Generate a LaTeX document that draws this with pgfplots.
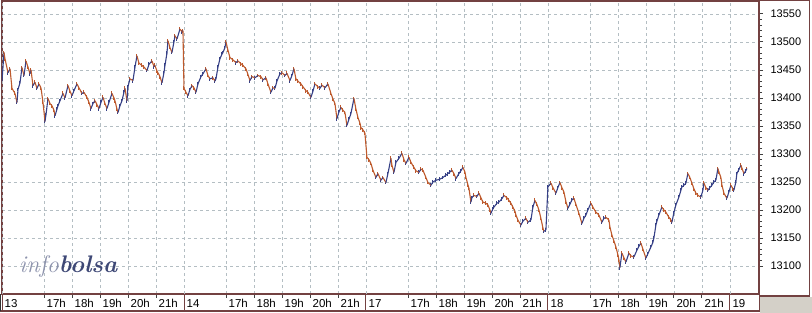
\documentclass[border=0pt]{standalone}
\usepackage{fontspec}
\newfontfamily\arialf{Liberation Sans}
\usepackage{pgfplots}
\usepackage{pgfplotstable}
\pgfplotsset{compat=1.18}
\definecolor{upc}{RGB}{55,65,135}
\definecolor{dnc}{RGB}{190,90,45}
\definecolor{framec}{RGB}{115,65,65}
\definecolor{gridc}{RGB}{180,190,195}
\definecolor{infoc}{RGB}{140,146,172}
\definecolor{bolsac}{RGB}{62,72,118}
\definecolor{grayboxc}{RGB}{212,208,200}
\pgfplotstableread{
p v d
2 13430 1
4 13481 0
5 13470 0
8 13445 1
10 13452 0
12 13417 0
15 13408 0
17 13392 1
18 13415 1
20 13427 1
22 13454 0
24 13440 1
26 13466 0
28 13455 0
30 13443 1
31 13450 0
33 13422 1
35 13428 0
37 13417 1
39 13425 0
41 13418 0
43 13392 0
45 13358 1
46 13370 1
48 13399 0
50 13390 0
52 13386 0
54 13378 0
55 13368 1
57 13380 1
58 13386 1
60 13395 1
63 13408 0
65 13400 1
68 13422 0
70 13412 0
72 13404 1
74 13413 1
77 13425 0
79 13418 0
82 13408 1
84 13410 0
87 13401 0
89 13392 0
91 13381 1
93 13390 1
95 13395 0
97 13388 0
99 13381 1
101 13392 1
103 13401 0
105 13390 0
107 13381 1
109 13392 1
112 13408 0
114 13400 0
115 13395 0
117 13380 0
118 13374 1
120 13386 1
122 13395 1
124 13410 1
125 13417 0
127 13395 1
128 13420 1
130 13434 0
133 13431 1
135 13455 1
137 13475 0
139 13462 0
142 13458 0
144 13455 0
147 13449 1
149 13460 1
152 13466 0
154 13456 1
155 13458 0
157 13448 0
158 13445 0
160 13438 0
162 13427 1
164 13445 1
165 13458 1
167 13480 1
168 13502 0
170 13490 0
172 13481 1
174 13500 1
175 13511 0
177 13505 1
180 13523 0
182 13518 1
183 13520 0
184 13417 0
186 13410 0
188 13404 1
190 13415 1
192 13422 0
194 13418 0
196 13410 1
198 13425 1
201 13438 1
203 13443 1
206 13452 0
208 13440 0
210 13434 1
213 13436 0
215 13430 1
216 13434 1
218 13455 1
220 13470 1
222 13478 1
223 13481 1
225 13490 1
226 13500 0
228 13485 0
230 13472 0
233 13468 0
236 13463 1
238 13466 0
241 13461 0
243 13458 0
246 13452 0
248 13442 0
250 13431 1
252 13438 0
255 13436 1
258 13440 0
261 13438 0
263 13432 1
266 13436 0
268 13425 0
271 13410 1
273 13418 0
275 13417 1
277 13430 1
280 13443 1
282 13445 0
285 13440 1
287 13444 0
290 13431 1
292 13440 1
294 13452 0
296 13434 0
298 13430 0
301 13425 0
303 13420 0
306 13413 0
308 13410 0
311 13401 1
313 13412 1
315 13425 0
318 13420 0
320 13417 1
322 13423 0
325 13418 1
328 13425 0
331 13408 0
333 13398 0
335 13390 0
337 13363 1
339 13375 1
341 13383 0
343 13378 0
345 13374 0
347 13351 1
349 13362 1
351 13372 1
354 13399 0
356 13380 0
358 13365 0
360 13355 0
361 13347 0
363 13343 0
365 13337 0
367 13294 0
369 13290 0
371 13283 0
373 13271 0
376 13258 1
378 13265 0
381 13253 1
383 13258 0
386 13249 1
388 13265 1
391 13292 0
392 13280 0
394 13267 1
396 13285 1
399 13292 1
402 13301 0
404 13290 0
406 13283 1
409 13294 0
411 13285 0
414 13276 0
416 13270 0
419 13267 1
421 13273 0
423 13271 0
426 13258 0
428 13249 0
431 13244 1
433 13250 1
436 13253 1
440 13255 1
443 13258 1
446 13262 1
448 13265 1
450 13268 1
452 13271 0
454 13265 0
456 13256 1
459 13265 1
461 13270 1
463 13276 0
465 13268 0
466 13258 0
468 13245 0
469 13239 0
471 13214 1
472 13222 1
474 13226 0
477 13224 1
479 13230 0
481 13222 0
483 13214 0
486 13212 0
488 13209 0
490 13200 0
491 13194 1
493 13202 1
494 13205 1
497 13212 1
499 13214 1
502 13220 1
504 13226 0
507 13222 0
509 13217 0
511 13212 0
513 13205 0
515 13198 0
516 13191 0
518 13182 0
521 13173 1
523 13180 1
526 13185 0
528 13178 1
531 13182 1
533 13205 1
535 13217 0
537 13210 0
539 13200 0
541 13185 0
543 13168 0
544 13162 1
546 13164 1
548 13241 1
551 13248 0
553 13240 0
556 13230 1
558 13240 1
560 13249 0
562 13240 0
564 13232 0
566 13215 0
568 13203 1
570 13210 1
572 13218 1
574 13221 0
576 13210 0
579 13194 0
582 13176 1
584 13185 1
586 13191 1
588 13200 1
591 13212 0
593 13205 0
596 13196 0
599 13191 0
602 13178 1
604 13185 1
606 13187 0
609 13182 0
610 13170 0
612 13155 0
614 13145 0
616 13134 0
618 13120 0
619 13111 0
620 13097 1
622 13123 0
624 13115 0
626 13107 1
629 13123 0
631 13118 0
634 13116 1
637 13128 1
639 13135 1
641 13141 0
643 13130 0
646 13114 1
648 13122 1
651 13134 1
653 13142 1
654 13150 1
656 13173 1
657 13180 1
659 13191 1
662 13205 0
664 13200 0
666 13196 0
669 13187 0
671 13182 0
672 13178 1
674 13195 1
676 13209 1
679 13223 1
681 13235 1
682 13241 1
684 13244 1
686 13248 1
688 13265 0
690 13258 0
692 13248 0
694 13238 0
696 13230 0
698 13226 0
701 13223 1
703 13235 1
704 13248 0
706 13240 0
708 13235 1
710 13240 1
712 13244 1
714 13250 1
716 13253 1
718 13274 0
719 13268 0
721 13258 0
722 13245 0
724 13230 0
727 13221 1
729 13232 1
731 13244 0
733 13238 0
734 13235 1
736 13250 1
737 13265 1
739 13272 1
741 13280 0
742 13275 0
744 13265 1
746 13270 1
747 13274 0
}\pricedata
\begin{document}
\begin{tikzpicture}[x=1pt,y=1pt]
\path[use as bounding box, fill=white] (0,0) rectangle (812,313);
\fill[grayboxc] (760,0) rectangle (812,15.5);
\begin{axis}[
  at={(2pt,19pt)}, anchor=south west,
  scale only axis, width=757pt, height=293pt,
  xmin=0, xmax=27.04, ymin=13050, ymax=13573,
  axis line style={draw=framec, line width=1.4pt},
  tick align=outside,
  xtick pos=bottom, ytick pos=right, yticklabel pos=right,
  xtick={1.5,2.5,3.5,4.5,5.5,8,9,10,11,12,14.5,15.5,16.5,17.5,18.5,21,22,23,24,25},
  xticklabels={17h,18h,19h,20h,21h,17h,18h,19h,20h,21h,17h,18h,19h,20h,21h,17h,18h,19h,20h,21h},
  extra x ticks={0,6.5,13,19.5,26},
  extra x tick labels={13,14,17,18,19},
  extra x tick style={major tick length=17pt, major tick style={draw=framec, line width=0.9pt}, grid=major, xticklabel style={yshift=13pt}},
  major tick length=4pt, minor tick length=3pt,
  tick style={draw=black!75, line width=0.8pt},
  xticklabel style={font=\arialf\fontsize{11.5}{12}\selectfont, anchor=north west, inner sep=0pt, xshift=2.5pt, yshift=-1pt},
  ytick={13100,13150,...,13550},
  scaled y ticks=false,
  minor y tick num=4,
  yticklabel style={font=\arialf\fontsize{11}{12}\selectfont, anchor=west, xshift=4pt, /pgf/number format/1000 sep={}, /pgf/number format/assume math mode=true},
  xmajorgrids, ymajorgrids,
  grid style={dash pattern=on 3pt off 3pt, gridc, line width=0.7pt},
  colormap={ud}{color=(dnc) color=(upc)},
  point meta min=0, point meta max=1,
]
\addplot[draw=none, mark=none, x filter/.expression={(x-2)/28},
  restrict expr to domain={\thisrow{d}}{0.5:1.5},
  error bars/.cd, y dir=both, y fixed=3.5, error mark=none, error bar style={draw=upc, line width=1pt}]
  table[x=p, y=v] {\pricedata};
\addplot[draw=none, mark=none, x filter/.expression={(x-2)/28},
  restrict expr to domain={\thisrow{d}}{-0.5:0.5},
  error bars/.cd, y dir=both, y fixed=3.5, error mark=none, error bar style={draw=dnc, line width=1pt}]
  table[x=p, y=v] {\pricedata};
\addplot[mesh, shader=flat corner, point meta=explicit, line width=1.1pt, x filter/.expression={(x-2)/28}]
  table[x=p, y=v, meta=d] {\pricedata};
\end{axis}
\draw[framec, line width=1.4pt] (0,2) -- (759.3,2) -- (759.3,19);
\draw[black!80, line width=1.2pt] (0.6,2) -- (0.6,19);
\draw[framec, line width=1.2pt] (759.3,17) -- (809.3,17) -- (809.3,312.4) -- (759.3,312.4);
\node[anchor=base west, inner sep=0pt] at (19,40) {\fontsize{24}{24}\selectfont\itshape\color{infoc}info\color{bolsac}\bfseries bolsa};
\end{tikzpicture}
\end{document}
